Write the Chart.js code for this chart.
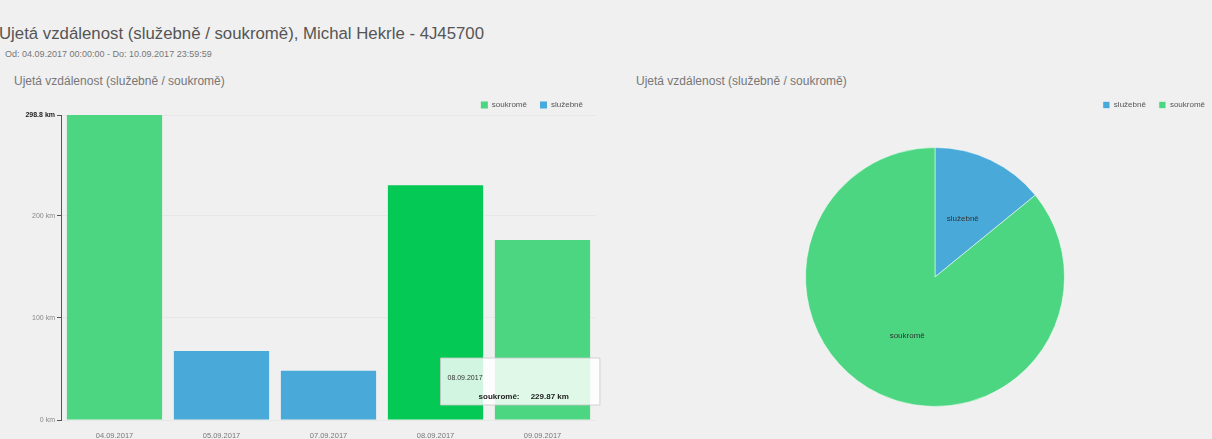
<!DOCTYPE html>
<html>
<head>
<meta charset="utf-8">
<script src="https://cdn.jsdelivr.net/npm/chart.js@4/dist/chart.umd.min.js"></script>
<style>
  body { margin: 0; background: #f0f0f0; font-family: 'Liberation Sans', Arial, sans-serif; width: 1212px; height: 439px; overflow: hidden; position: relative; }
  .title { position: absolute; left: -1px; top: 24px; font-size: 16.8px; color: #555; }
  .sub { position: absolute; left: 5px; top: 49px; font-size: 9px; color: #777; }
  .ptitle { position: absolute; top: 74px; font-size: 12px; color: #777; }
  .box { position: absolute; }
</style>
</head>
<body>
<div class="title">Ujetá vzdálenost (služebně / soukromě), Michal Hekrle - 4J45700</div>
<div class="sub">Od: 04.09.2017 00:00:00 - Do: 10.09.2017 23:59:59</div>
<div class="ptitle" style="left:14px">Ujetá vzdálenost (služebně / soukromě)</div>
<div class="ptitle" style="left:636px">Ujetá vzdálenost (služebně / soukromě)</div>
<div class="box" style="left:8px;top:88px;width:600px;height:351px"><canvas id="barChart"></canvas></div>
<div class="box" style="left:620px;top:88px;width:598px;height:351px"><canvas id="pieChart"></canvas></div>
<script>
// data (km)
const days = ['04.09.2017', '05.09.2017', '07.09.2017', '08.09.2017', '09.09.2017'];
const soukrome = [298.8, null, null, 229.87, 176.3];
const sluzebne = [null, 67.6, 48.2, null, null];
const yTicks = [0, 100, 200, 298.8];
const pieLabels = ['služebně', 'soukromě'];

const green = '#4dd682';
const greenHover = '#05c955';
const blue = '#49aad9';

Chart.defaults.font.family = "'Liberation Sans', Arial, sans-serif";
Chart.defaults.color = '#666';
Chart.defaults.animation = false;

function sum(arr) {
  return arr.reduce((a, b) => a + (b || 0), 0);
}
const pieValues = [sum(sluzebne), sum(soukrome)];

// fixed legend block height, so the plot area starts where it should
function legendHeight(h) {
  return {
    id: 'legendHeight',
    beforeInit(chart) {
      const fit = chart.legend.fit;
      chart.legend.fit = function() {
        fit.bind(chart.legend)();
        this.height = h;
      };
    }
  };
}

Chart.Tooltip.positioners.lowBox = function(items) {
  if (!items.length) return false;
  const el = items[0].element;
  return { x: el.x + 5, y: this.chart.chartArea.bottom - 62 };
};

const legendLabels = { boxWidth: 7, boxHeight: 7, padding: 13, font: { size: 8 }, color: '#555' };

const barChart = new Chart(document.getElementById('barChart'), {
  type: 'bar',
  data: {
    labels: days,
    datasets: [{
      label: 'soukromě',
      data: soukrome,
      backgroundColor: green,
      hoverBackgroundColor: greenHover
    }, {
      label: 'služebně',
      data: sluzebne,
      backgroundColor: blue,
      hoverBackgroundColor: blue
    }]
  },
  options: {
    responsive: true,
    maintainAspectRatio: false,
    layout: { padding: { right: 12 } },
    datasets: { bar: { categoryPercentage: 1, barPercentage: 0.89 } },
    plugins: {
      legend: { align: 'end', labels: legendLabels },
      tooltip: {
        position: 'lowBox',
        xAlign: 'left',
        yAlign: 'top',
        caretSize: 0,
        caretPadding: 0,
        displayColors: false,
        backgroundColor: 'rgba(255,255,255,0.82)',
        borderColor: 'rgba(200,200,200,0.8)',
        borderWidth: 1,
        cornerRadius: 0,
        titleColor: '#333',
        bodyColor: '#222',
        titleFont: { size: 7, weight: 'normal' },
        bodyFont: { size: 8, weight: 'bold' },
        titleMarginBottom: 10,
        bodyAlign: 'right',
        padding: { top: 16, bottom: 3, left: 7, right: 31 },
        callbacks: {
          label: ctx => '              ' + ctx.dataset.label + ':     ' + ctx.parsed.y.toFixed(2) + ' km'
        }
      }
    },
    scales: {
      x: {
        stacked: true,
        grid: { display: false },
        border: { display: false },
        ticks: { font: { size: 7.5 }, color: '#777', maxRotation: 0 },
        afterFit: s => { s.height = 19; }
      },
      y: {
        stacked: true,
        min: 0,
        max: 298.8,
        afterBuildTicks: s => { s.ticks = yTicks.map(v => ({ value: v })); },
        grid: { color: 'rgba(0,0,0,0.035)', tickColor: '#555', tickLength: 4, drawOnChartArea: true },
        border: { display: true, color: '#555', width: 1 },
        ticks: {
          padding: 2,
          font: ctx => ({ size: 7, weight: ctx.tick && ctx.tick.value === 298.8 ? 'bold' : 'normal' }),
          color: ctx => ctx.tick && ctx.tick.value === 298.8 ? '#222' : '#888',
          callback: v => v + ' km'
        },
        afterFit: s => { s.width = 53; }
      }
    }
  },
  plugins: [legendHeight(27)]
});

barChart.setActiveElements([{ datasetIndex: 0, index: 3 }]);
barChart.tooltip.setActiveElements([{ datasetIndex: 0, index: 3 }], { x: 0, y: 0 });
barChart.update('none');

const sliceLabels = {
  id: 'sliceLabels',
  afterDatasetsDraw(chart) {
    const ctx = chart.ctx;
    const meta = chart.getDatasetMeta(0);
    ctx.save();
    ctx.font = "8px 'Liberation Sans', Arial, sans-serif";
    ctx.fillStyle = '#333';
    ctx.textAlign = 'center';
    ctx.textBaseline = 'middle';
    meta.data.forEach((arc, i) => {
      const p = arc.tooltipPosition();
      ctx.fillText(chart.data.labels[i], p.x, p.y);
    });
    ctx.restore();
  }
};

new Chart(document.getElementById('pieChart'), {
  type: 'pie',
  data: {
    labels: pieLabels,
    datasets: [{
      data: pieValues,
      backgroundColor: [blue, green],
      borderColor: 'rgba(255,255,255,0.5)',
      borderWidth: 1
    }]
  },
  options: {
    responsive: true,
    maintainAspectRatio: false,
    layout: { padding: { top: 0, bottom: 32, left: 32, right: 0 } },
    plugins: {
      legend: { align: 'end', labels: legendLabels },
      tooltip: { enabled: false }
    }
  },
  plugins: [legendHeight(59), sliceLabels]
});
</script>
</body>
</html>
